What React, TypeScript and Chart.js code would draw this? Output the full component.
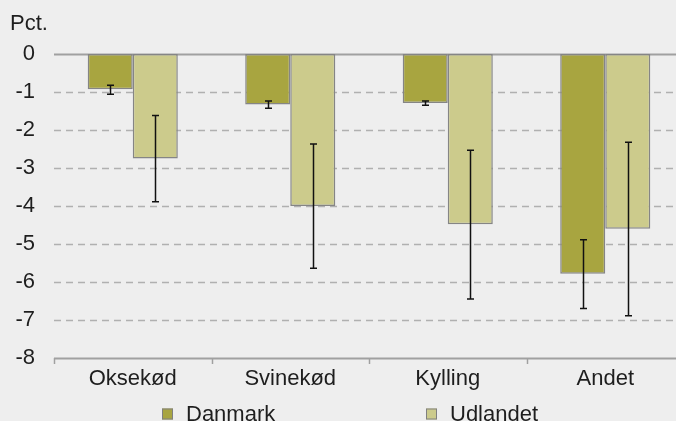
import React, { useEffect, useRef } from "react";
import { Chart, registerables } from "chart.js";

Chart.register(...registerables);

const categories = ["Oksekød", "Svinekød", "Kylling", "Andet"];
const seriesNames = ["Danmark", "Udlandet"];
const danmark = [-0.93, -1.33, -1.29, -5.78];
const udlandet = [-2.75, -4.0, -4.48, -4.6];
const danmarkErrTop = [-0.82, -1.24, -1.24, -4.89];
const danmarkErrBottom = [-1.06, -1.43, -1.35, -6.7];
const udlandetErrTop = [-1.62, -2.37, -2.53, -2.32];
const udlandetErrBottom = [-3.89, -5.64, -6.45, -6.89];
const yMin = -8;
const yMax = 0;
const yUnitLabel = "Pct.";

const colors = ["#a8a540", "#cccb8c"];
const FONT = "'Liberation Sans', Arial, sans-serif";
const FS = 22;
const TEXT = "#1e1e1e";

export default function App() {
  const ref = useRef<HTMLCanvasElement | null>(null);

  useEffect(() => {
    document.body.style.margin = "0";
    document.documentElement.style.overflow = "hidden";
    document.body.style.background = "#eeeeee";
    const canvas = ref.current!;
    const errs = [
      [danmarkErrTop, danmarkErrBottom],
      [udlandetErrTop, udlandetErrBottom],
    ];

    const decor = {
      id: "decor",
      beforeDatasetsDraw(chart: any) {
        const { ctx, chartArea } = chart;
        const y = chart.scales.y;
        ctx.save();
        for (let v = yMax; v >= yMin; v--) {
          const py = Math.round(y.getPixelForValue(v)) + 0.5;
          ctx.beginPath();
          if (v === yMax || v === yMin) {
            ctx.setLineDash([]);
            ctx.strokeStyle = "#a0a0a0";
            ctx.lineWidth = 2;
          } else {
            ctx.setLineDash([7, 5]);
            ctx.strokeStyle = "#b0b0b0";
            ctx.lineWidth = 1.5;
          }
          ctx.moveTo(chartArea.left, py);
          ctx.lineTo(chartArea.right, py);
          ctx.stroke();
        }
        ctx.setLineDash([]);
        ctx.strokeStyle = "#a0a0a0";
        ctx.lineWidth = 1.5;
        const n = categories.length;
        const w = (chartArea.right - chartArea.left) / n;
        for (let i = 0; i <= n; i++) {
          const px = Math.round(chartArea.left + i * w) + 0.5;
          ctx.beginPath();
          ctx.moveTo(px, chartArea.bottom);
          ctx.lineTo(px, chartArea.bottom + 6);
          ctx.stroke();
        }
        ctx.restore();
      },
      afterDatasetsDraw(chart: any) {
        const { ctx } = chart;
        const y = chart.scales.y;
        ctx.save();
        ctx.strokeStyle = "#111";
        ctx.lineWidth = 1.5;
        chart.data.datasets.forEach((ds: any, di: number) => {
          const meta = chart.getDatasetMeta(di);
          meta.data.forEach((bar: any, i: number) => {
            const px = Math.round(bar.x) + 0.5;
            const t = y.getPixelForValue(errs[di][0][i]);
            const b = y.getPixelForValue(errs[di][1][i]);
            ctx.beginPath();
            ctx.moveTo(px, t);
            ctx.lineTo(px, b);
            ctx.moveTo(px - 3.5, t);
            ctx.lineTo(px + 3.5, t);
            ctx.moveTo(px - 3.5, b);
            ctx.lineTo(px + 3.5, b);
            ctx.stroke();
          });
        });
        ctx.restore();
      },
      afterDraw(chart: any) {
        const { ctx } = chart;
        ctx.save();
        ctx.font = `${FS}px ${FONT}`;
        ctx.fillStyle = TEXT;
        ctx.textBaseline = "alphabetic";
        ctx.textAlign = "left";
        ctx.fillText(yUnitLabel, 10, 30);
        const legendX = [162, 426];
        const ly = 414;
        seriesNames.forEach((name, i) => {
          const bx = legendX[i];
          ctx.fillStyle = colors[i];
          ctx.fillRect(bx, ly - 5.5, 11, 11);
          ctx.strokeStyle = "#808080";
          ctx.lineWidth = 1;
          ctx.strokeRect(bx + 0.5, ly - 5, 10, 10);
          ctx.fillStyle = TEXT;
          ctx.textBaseline = "middle";
          ctx.fillText(name, bx + 24, ly + 1);
        });
        ctx.restore();
      },
    };

    const chart = new Chart(canvas, {
      type: "bar",
      data: {
        labels: categories,
        datasets: [
          {
            label: seriesNames[0],
            data: danmark,
            backgroundColor: colors[0],
            borderColor: "#858585",
            borderWidth: 1.5,
            borderSkipped: false,
          },
          {
            label: seriesNames[1],
            data: udlandet,
            backgroundColor: colors[1],
            borderColor: "#858585",
            borderWidth: 1.5,
            borderSkipped: false,
          },
        ],
      },
      options: {
        animation: false,
        responsive: false,
        maintainAspectRatio: false,
        devicePixelRatio: 1,
        layout: { padding: { top: 54, left: 0, right: 0, bottom: 23 } },
        datasets: { bar: { categoryPercentage: 0.572, barPercentage: 1.0 } },
        plugins: { legend: { display: false }, tooltip: { enabled: false } },
        scales: {
          x: {
            grid: { display: false },
            border: { display: false },
            ticks: { color: TEXT, font: { family: FONT, size: FS }, padding: 0 },
            afterFit(scale: any) {
              scale.height = 40;
            },
          },
          y: {
            min: yMin,
            max: yMax,
            grid: { display: false },
            border: { display: false },
            ticks: {
              stepSize: 1,
              color: TEXT,
              font: { family: FONT, size: FS },
              padding: 11,
            },
            afterFit(scale: any) {
              scale.width = 54;
            },
          },
        },
      },
      plugins: [decor],
    });
    return () => chart.destroy();
  }, []);

  return (
    <div style={{ position: "absolute", left: 0, top: 0, width: 684, height: 421, background: "#eeeeee" }}>
      <canvas ref={ref} width={684} height={421} style={{ width: 684, height: 421, display: "block" }} />
    </div>
  );
}
